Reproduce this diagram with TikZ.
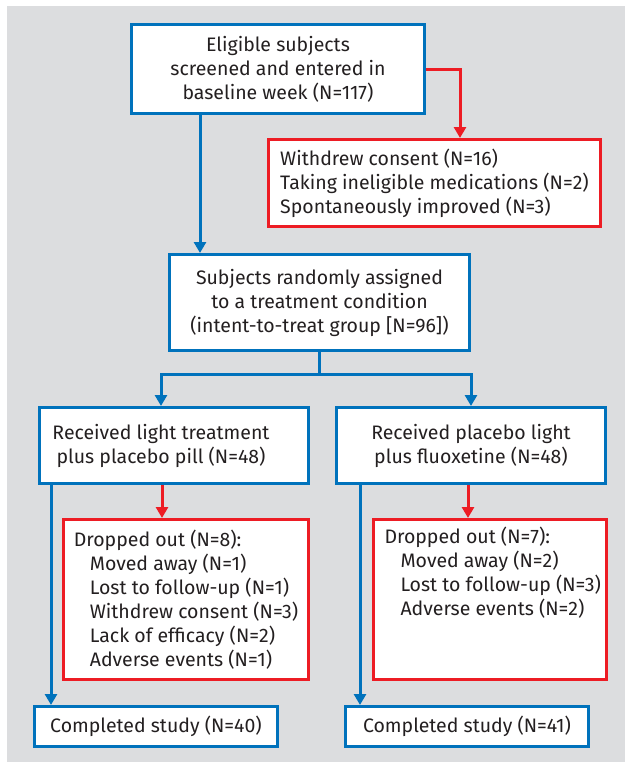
\documentclass[tikz,border=0pt]{standalone}
\usepackage{fontspec}
\setmainfont{Fira Sans}
\usepackage{tikz}
\usetikzlibrary{arrows.meta}
\definecolor{flowblue}{RGB}{0,114,188}
\definecolor{flowred}{RGB}{237,28,36}
\definecolor{flowgray}{RGB}{220,221,223}
\definecolor{flowtext}{RGB}{35,31,32}

\begin{document}
\begin{tikzpicture}[x=1pt, y=-1pt, line width=3pt, >={Triangle[width=12pt,length=11pt]}]
	\tikzstyle{every node} = [rectangle, font=\fontsize{19.5}{24}\selectfont, text=flowtext]
	\tikzstyle{bluebox} = [draw=flowblue, fill=white]
	\tikzstyle{redbox}  = [draw=flowred, fill=white]
	\fill[flowgray] (7,6) rectangle (625,762);
	\useasboundingbox (0,0) rectangle (625,763);
	\node[bluebox, minimum width=293pt, minimum height=89pt, align=center] (elig) at (278,69) {Eligible subjects\\screened and entered in\\baseline week (N=117)};
	\node[redbox, minimum width=332pt, minimum height=87pt, align=left] (excl) at (434.5,183) {Withdrew consent (N=16)\\Taking ineligible medications (N=2)\\Spontaneously improved (N=3)};
	\node[bluebox, minimum width=300pt, minimum height=96pt, align=center] (rand) at (319.5,302.5) {Subjects randomly assigned\\to a treatment condition\\(intent-to-treat group [N=96])};
	\node[bluebox, minimum width=269pt, minimum height=76pt] (light) at (174,445.5) {};
	\node[align=center] (lighttxt) at (161,445.5) {Received light treatment\\plus placebo pill (N=48)};
	\node[bluebox, minimum width=269pt, minimum height=76pt, align=center] (placebo) at (471,445.5) {Received placebo light\\plus fluoxetine (N=48)};
	\node[redbox, minimum width=245pt, minimum height=160pt, align=left] (dropL) at (186,599.5) {Dropped out (N=8):\\\hspace*{16pt}Moved away (N=1)\\\hspace*{16pt}Lost to follow-up (N=1)\\\hspace*{16pt}Withdrew consent (N=3)\\\hspace*{16pt}Lack of efficacy (N=2)\\\hspace*{16pt}Adverse events (N=1)};
	\node[redbox, minimum width=233pt, minimum height=160pt] (dropR) at (490,599.5) {};
	\node[align=left, anchor=base west, inner sep=0pt] (dropRtxt) at (383,615) {Dropped out (N=7):\\\hspace*{16pt}Moved away (N=2)\\\hspace*{16pt}Lost to follow-up (N=3)\\\hspace*{16pt}Adverse events (N=2)};
	\node[bluebox, minimum width=243pt, minimum height=40pt] (doneL) at (156,726.5) {Completed study (N=40)};
	\node[bluebox, minimum width=243pt, minimum height=40pt] (doneR) at (467,726.5) {Completed study (N=41)};
	\draw[flowred, ->]  (elig.east) -| ([xshift=25.5pt]excl.north);
	\draw[flowblue, ->] ([xshift=-78pt]elig.south) -- ([xshift=-119.5pt]rand.north);
	\draw[flowblue]     (rand.south) -- ++(0,22) coordinate (split);
	\draw[flowblue, ->] (split) -| ([xshift=-13pt]light.north);
	\draw[flowblue, ->] (split) -| (placebo.north);
	\draw[flowred, ->]  ([xshift=-12pt]light.south) -- ([xshift=-24pt]dropL.north);
	\draw[flowred, ->]  ([xshift=-3pt]placebo.south) -- ([xshift=-22pt]dropR.north);
	\draw[flowblue, ->] ([xshift=-123pt]light.south) -- ([xshift=-105pt]doneL.north);
	\draw[flowblue, ->] ([xshift=-111pt]placebo.south) -- ([xshift=-107pt]doneR.north);
\end{tikzpicture}
\end{document}
